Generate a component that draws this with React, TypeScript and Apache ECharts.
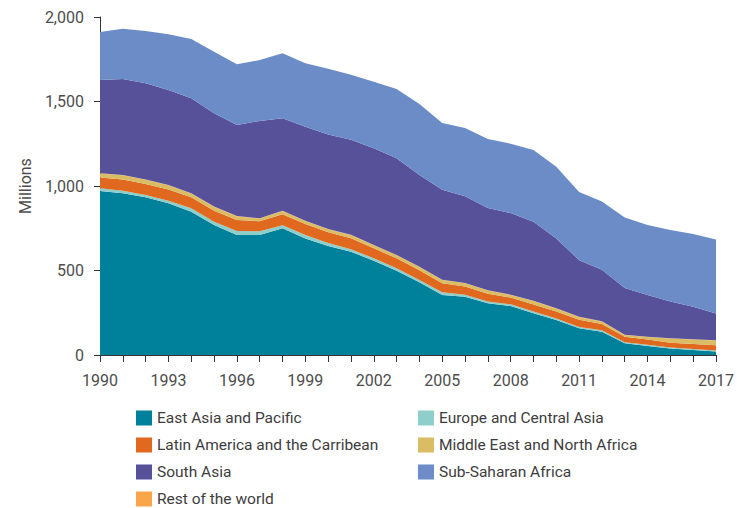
import React, { useEffect, useRef } from "react";
import * as echarts from "echarts";

const years = [
  "1990", "1991", "1992", "1993", "1994", "1995", "1996", "1997", "1998", "1999",
  "2000", "2001", "2002", "2003", "2004", "2005", "2006", "2007", "2008", "2009",
  "2010", "2011", "2012", "2013", "2014", "2015", "2016", "2017",
];

const eastAsia = [970, 957, 933, 898, 848, 769, 710, 710, 750, 690, 645, 611, 558, 499, 430, 355, 345, 306, 290, 247, 207, 158, 138, 69, 53, 39, 30, 20];
const europe = [16, 15, 14, 15, 20, 20, 24, 22, 18, 20, 18, 15, 14, 14, 14, 16, 12, 11, 10, 10, 9, 8, 8, 7, 7, 6, 6, 6];
const latinAmerica = [65, 67, 65, 67, 65, 65, 65, 59, 65, 65, 63, 65, 59, 59, 58, 53, 48, 46, 40, 42, 42, 42, 37, 32, 32, 28, 29, 31];
const middleEast = [22, 24, 25, 24, 22, 22, 21, 16, 18, 18, 18, 18, 18, 18, 18, 20, 19, 18, 15, 20, 16, 16, 14, 10, 14, 24, 26, 28];
const restOfWorld = [2, 2, 2, 2, 2, 2, 2, 2, 2, 2, 2, 2, 2, 2, 2, 2, 2, 2, 2, 2, 2, 2, 2, 2, 2, 2, 2, 2];
const southAsia = [552, 568, 569, 562, 562, 552, 539, 576, 548, 556, 558, 562, 572, 572, 543, 532, 513, 487, 483, 468, 414, 335, 306, 277, 247, 217, 193, 158];
const subSaharan = [284, 297, 309, 330, 351, 365, 359, 360, 385, 375, 390, 385, 394, 410, 420, 395, 404, 408, 410, 424, 424, 404, 404, 417, 414, 424, 430, 439];

const yTicks = [0, 500, 1000, 1500, 2000];

const FONT = "Roboto, 'Liberation Sans', sans-serif";

const seriesDefs = [
  { name: "East Asia and Pacific", data: eastAsia, color: "#00819b" },
  { name: "Europe and Central Asia", data: europe, color: "#8ecfcb" },
  { name: "Latin America and the Carribean", data: latinAmerica, color: "#e0691f" },
  { name: "Middle East and North Africa", data: middleEast, color: "#d9bc63" },
  { name: "Rest of the world", data: restOfWorld, color: "#f9a54a" },
  { name: "South Asia", data: southAsia, color: "#57519a" },
  { name: "Sub-Saharan Africa", data: subSaharan, color: "#6b8cc7" },
];

export default function App() {
  const ref = useRef<HTMLDivElement>(null);
  useEffect(() => {
    if (!ref.current) return;
    const chart = echarts.init(ref.current, undefined, { renderer: "svg" });
    const legendCommon = {
      orient: "vertical",
      icon: "rect",
      itemWidth: 16,
      itemHeight: 15,
      itemGap: 11,
      padding: 0,
      height: 150,
      selectedMode: false,
      textStyle: { fontFamily: FONT, fontSize: 15.5, color: "#3d3d3d" },
    };
    chart.setOption({
      animation: false,
      grid: { left: 100, right: 24, top: 17, bottom: 153, containLabel: false },
      legend: [
        {
          ...legendCommon,
          left: 136,
          top: 410,
          data: ["East Asia and Pacific", "Latin America and the Carribean", "South Asia", "Rest of the world"],
        },
        {
          ...legendCommon,
          left: 418,
          top: 410,
          data: ["Europe and Central Asia", "Middle East and North Africa", "Sub-Saharan Africa"],
        },
      ],
      xAxis: {
        type: "category",
        data: years,
        boundaryGap: false,
        axisLine: { lineStyle: { color: "#333", width: 1 } },
        axisTick: { show: true, interval: 0, length: 7, lineStyle: { color: "#333" } },
        axisLabel: {
          interval: 2,
          margin: 17,
          fontFamily: FONT,
          fontSize: 16,
          color: "#4d4d4d",
        },
        splitLine: { show: false },
      },
      yAxis: {
        type: "value",
        min: yTicks[0],
        max: yTicks[yTicks.length - 1],
        interval: 500,
        name: "Millions",
        nameLocation: "middle",
        nameGap: 56,
        nameTextStyle: { fontFamily: FONT, fontSize: 16, color: "#4d4d4d" },
        axisLine: { show: true, lineStyle: { color: "#333", width: 1 } },
        axisTick: { show: true, length: 6, lineStyle: { color: "#333" } },
        axisLabel: {
          margin: 16,
          fontFamily: FONT,
          fontSize: 16,
          color: "#4d4d4d",
          formatter: (v: number) => v.toLocaleString("en-US"),
        },
        splitLine: { show: false },
      },
      series: seriesDefs.map((s) => ({
        name: s.name,
        type: "line",
        stack: "total",
        data: s.data,
        showSymbol: false,
        symbol: "none",
        lineStyle: { width: 0 },
        areaStyle: { color: s.color, opacity: 1 },
        itemStyle: { color: s.color },
        emphasis: { disabled: true },
      })),
    });
    return () => chart.dispose();
  }, []);
  return (
    <div
      ref={ref}
      style={{ position: "fixed", left: 0, top: 0, width: 740, height: 508, background: "#fff" }}
    />
  );
}
